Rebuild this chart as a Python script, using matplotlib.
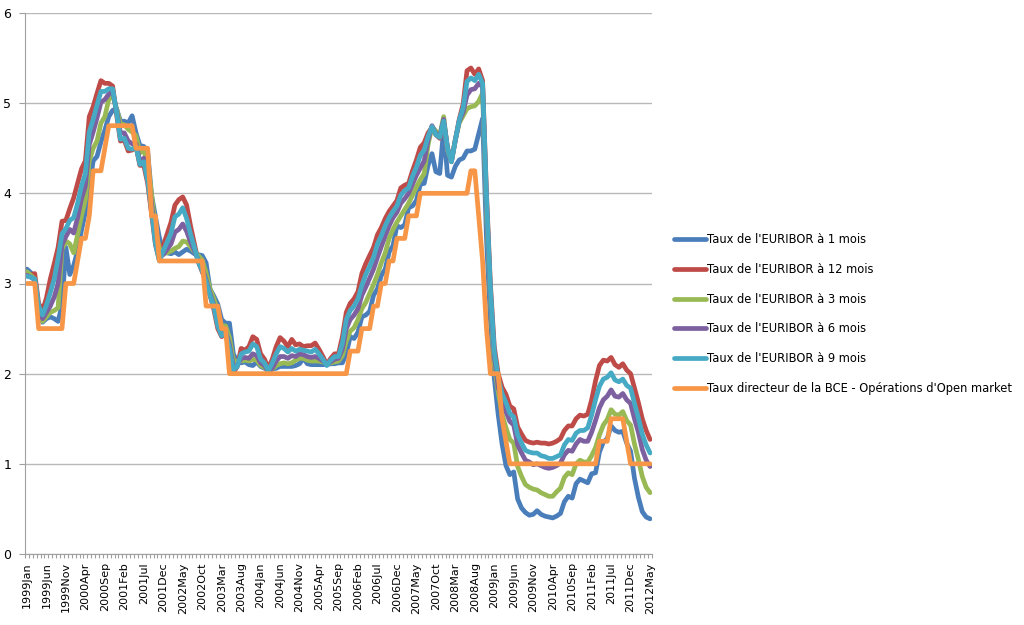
import matplotlib
matplotlib.use("Agg")
import matplotlib.pyplot as plt
import numpy as np

# DATA ------------------------------------------------------------
# monthly values, 1999Jan -> 2012May (161 months)
eur_1m = [
    3.16, 3.12, 3.05, 2.70, 2.57, 2.61, 2.63, 2.61, 2.58, 2.76, 3.40, 3.10,  # 1999
    3.20, 3.36, 3.59, 3.79, 4.06, 4.36, 4.41, 4.57, 4.70, 4.85, 4.92, 4.94,  # 2000
    4.80, 4.80, 4.78, 4.86, 4.67, 4.53, 4.52, 4.46, 3.98, 3.74, 3.51, 3.34,  # 2001
    3.34, 3.33, 3.35, 3.32, 3.35, 3.38, 3.36, 3.33, 3.32, 3.31, 3.23, 2.94,  # 2002
    2.86, 2.77, 2.60, 2.56, 2.56, 2.22, 2.13, 2.12, 2.13, 2.10, 2.09, 2.13,  # 2003
    2.08, 2.06, 2.04, 2.05, 2.06, 2.08, 2.08, 2.08, 2.08, 2.09, 2.11, 2.17,  # 2004
    2.11, 2.10, 2.10, 2.10, 2.10, 2.10, 2.11, 2.11, 2.12, 2.12, 2.22, 2.41,  # 2005
    2.39, 2.46, 2.63, 2.65, 2.69, 2.87, 2.94, 3.09, 3.16, 3.35, 3.42, 3.64,  # 2006
    3.62, 3.65, 3.84, 3.86, 3.92, 4.10, 4.11, 4.31, 4.44, 4.24, 4.22, 4.71,  # 2007
    4.20, 4.18, 4.30, 4.37, 4.39, 4.47, 4.47, 4.49, 4.66, 4.83, 3.50, 2.60,  # 2008
    1.95, 1.55, 1.22, 0.98, 0.88, 0.91, 0.61, 0.51, 0.46, 0.43, 0.44, 0.48,  # 2009
    0.44, 0.42, 0.41, 0.40, 0.42, 0.45, 0.58, 0.64, 0.62, 0.78, 0.83, 0.81,  # 2010
    0.79, 0.89, 0.90, 1.13, 1.24, 1.28, 1.42, 1.37, 1.35, 1.36, 1.23, 1.14,  # 2011
    0.84, 0.63, 0.47, 0.41, 0.39]                                           # 2012

eur_12m = [
    3.09, 3.10, 3.11, 2.78, 2.70, 2.84, 3.05, 3.22, 3.40, 3.69, 3.70, 3.83,
    3.95, 4.11, 4.27, 4.36, 4.85, 4.96, 5.11, 5.25, 5.22, 5.22, 5.19, 4.88,
    4.58, 4.59, 4.47, 4.48, 4.52, 4.31, 4.31, 4.11, 3.77, 3.43, 3.26, 3.42,
    3.55, 3.68, 3.87, 3.93, 3.96, 3.87, 3.64, 3.44, 3.24, 3.13, 3.03, 2.87,
    2.71, 2.50, 2.41, 2.45, 2.26, 2.01, 2.08, 2.28, 2.26, 2.30, 2.41, 2.38,
    2.22, 2.16, 2.06, 2.16, 2.30, 2.40, 2.36, 2.30, 2.38, 2.32, 2.33, 2.30,
    2.31, 2.31, 2.34, 2.27, 2.19, 2.10, 2.17, 2.22, 2.22, 2.41, 2.68, 2.78,
    2.83, 2.91, 3.11, 3.22, 3.31, 3.40, 3.54, 3.62, 3.72, 3.80, 3.86, 3.92,
    4.06, 4.09, 4.11, 4.25, 4.37, 4.51, 4.56, 4.67, 4.73, 4.65, 4.61, 4.79,
    4.50, 4.35, 4.59, 4.82, 4.99, 5.36, 5.39, 5.32, 5.38, 5.25, 4.00, 3.00,
    2.30, 2.00, 1.85, 1.77, 1.64, 1.61, 1.41, 1.33, 1.26, 1.24, 1.23, 1.24,
    1.23, 1.23, 1.22, 1.23, 1.25, 1.28, 1.37, 1.42, 1.42, 1.50, 1.54, 1.53,
    1.55, 1.71, 1.92, 2.09, 2.15, 2.14, 2.18, 2.10, 2.07, 2.11, 2.04, 2.00,
    1.84, 1.68, 1.50, 1.37, 1.27]

eur_3m = [
    3.13, 3.09, 3.05, 2.70, 2.58, 2.63, 2.68, 2.70, 2.73, 3.38, 3.47, 3.44,
    3.34, 3.54, 3.75, 3.93, 4.36, 4.50, 4.58, 4.78, 4.85, 5.04, 5.09, 4.94,
    4.77, 4.76, 4.71, 4.68, 4.64, 4.45, 4.47, 4.35, 3.99, 3.60, 3.39, 3.34,
    3.34, 3.36, 3.39, 3.41, 3.47, 3.46, 3.41, 3.35, 3.31, 3.26, 3.12, 2.94,
    2.83, 2.69, 2.53, 2.53, 2.40, 2.15, 2.13, 2.14, 2.15, 2.14, 2.16, 2.15,
    2.09, 2.07, 2.03, 2.05, 2.09, 2.11, 2.12, 2.11, 2.12, 2.15, 2.17, 2.17,
    2.15, 2.14, 2.14, 2.14, 2.13, 2.11, 2.12, 2.13, 2.14, 2.20, 2.36, 2.47,
    2.51, 2.60, 2.72, 2.79, 2.89, 2.99, 3.10, 3.23, 3.34, 3.50, 3.60, 3.68,
    3.75, 3.82, 3.89, 3.98, 4.07, 4.15, 4.22, 4.54, 4.74, 4.69, 4.64, 4.85,
    4.48, 4.36, 4.60, 4.78, 4.86, 4.94, 4.96, 4.97, 5.02, 5.11, 3.80, 2.85,
    2.10, 1.80, 1.55, 1.40, 1.27, 1.23, 0.97, 0.86, 0.77, 0.74, 0.72, 0.71,
    0.68, 0.66, 0.64, 0.64, 0.69, 0.73, 0.85, 0.90, 0.88, 1.00, 1.04, 1.02,
    1.02, 1.09, 1.18, 1.32, 1.43, 1.49, 1.60, 1.55, 1.54, 1.58, 1.48, 1.43,
    1.22, 1.05, 0.86, 0.74, 0.68]

eur_6m = [
    3.09, 3.07, 3.04, 2.72, 2.61, 2.68, 2.75, 2.85, 3.00, 3.43, 3.52, 3.60,
    3.56, 3.73, 3.94, 4.08, 4.54, 4.68, 4.84, 5.01, 5.04, 5.10, 5.13, 4.92,
    4.67, 4.67, 4.58, 4.55, 4.55, 4.35, 4.39, 4.22, 3.88, 3.49, 3.29, 3.32,
    3.38, 3.44, 3.57, 3.60, 3.66, 3.58, 3.46, 3.36, 3.26, 3.17, 3.04, 2.89,
    2.76, 2.58, 2.45, 2.47, 2.32, 2.08, 2.09, 2.17, 2.18, 2.17, 2.22, 2.20,
    2.12, 2.09, 2.02, 2.06, 2.14, 2.19, 2.19, 2.17, 2.20, 2.19, 2.22, 2.21,
    2.19, 2.18, 2.19, 2.17, 2.14, 2.11, 2.13, 2.16, 2.17, 2.27, 2.50, 2.60,
    2.65, 2.72, 2.87, 2.96, 3.06, 3.16, 3.29, 3.41, 3.53, 3.64, 3.73, 3.79,
    3.89, 3.94, 4.00, 4.10, 4.20, 4.28, 4.36, 4.59, 4.75, 4.66, 4.63, 4.82,
    4.50, 4.36, 4.59, 4.80, 4.90, 5.09, 5.15, 5.16, 5.22, 5.18, 3.90, 2.90,
    2.20, 1.85, 1.70, 1.58, 1.47, 1.43, 1.21, 1.12, 1.04, 1.02, 0.99, 1.00,
    0.98, 0.96, 0.95, 0.96, 0.98, 1.01, 1.10, 1.15, 1.14, 1.22, 1.27, 1.25,
    1.25, 1.35, 1.48, 1.62, 1.71, 1.75, 1.82, 1.75, 1.74, 1.78, 1.71, 1.67,
    1.50, 1.35, 1.16, 1.04, 0.97]

eur_9m = [
    3.08, 3.07, 3.05, 2.75, 2.65, 2.76, 2.90, 3.05, 3.28, 3.55, 3.61, 3.70,
    3.73, 3.89, 4.08, 4.22, 4.68, 4.82, 4.98, 5.13, 5.13, 5.16, 5.16, 4.90,
    4.60, 4.61, 4.50, 4.49, 4.52, 4.32, 4.35, 4.14, 3.81, 3.44, 3.25, 3.36,
    3.46, 3.56, 3.74, 3.77, 3.84, 3.72, 3.55, 3.40, 3.24, 3.14, 3.02, 2.87,
    2.74, 2.53, 2.42, 2.46, 2.28, 2.04, 2.08, 2.22, 2.24, 2.25, 2.33, 2.30,
    2.16, 2.12, 2.03, 2.12, 2.22, 2.30, 2.28, 2.24, 2.28, 2.25, 2.27, 2.26,
    2.25, 2.24, 2.27, 2.22, 2.16, 2.09, 2.15, 2.19, 2.19, 2.34, 2.60, 2.70,
    2.75, 2.83, 2.98, 3.10, 3.19, 3.29, 3.44, 3.53, 3.64, 3.73, 3.80, 3.86,
    3.98, 4.03, 4.06, 4.19, 4.29, 4.42, 4.48, 4.63, 4.74, 4.65, 4.62, 4.80,
    4.50, 4.35, 4.59, 4.81, 4.95, 5.24, 5.28, 5.25, 5.32, 5.22, 3.95, 2.95,
    2.25, 1.95, 1.78, 1.68, 1.56, 1.52, 1.32, 1.23, 1.15, 1.13, 1.12, 1.12,
    1.09, 1.08, 1.06, 1.06, 1.08, 1.10, 1.21, 1.27, 1.26, 1.34, 1.37, 1.37,
    1.40, 1.54, 1.71, 1.86, 1.94, 1.96, 2.01, 1.93, 1.91, 1.94, 1.87, 1.84,
    1.67, 1.51, 1.33, 1.21, 1.12]

bce = [
    3.00, 3.00, 3.00, 2.50, 2.50, 2.50, 2.50, 2.50, 2.50, 2.50, 3.00, 3.00,
    3.00, 3.25, 3.50, 3.50, 3.75, 4.25, 4.25, 4.25, 4.50, 4.75, 4.75, 4.75,
    4.75, 4.75, 4.75, 4.75, 4.50, 4.50, 4.50, 4.50, 3.75, 3.75, 3.25, 3.25,
    3.25, 3.25, 3.25, 3.25, 3.25, 3.25, 3.25, 3.25, 3.25, 3.25, 2.75, 2.75,
    2.75, 2.75, 2.50, 2.50, 2.00, 2.00, 2.00, 2.00, 2.00, 2.00, 2.00, 2.00,
    2.00, 2.00, 2.00, 2.00, 2.00, 2.00, 2.00, 2.00, 2.00, 2.00, 2.00, 2.00,
    2.00, 2.00, 2.00, 2.00, 2.00, 2.00, 2.00, 2.00, 2.00, 2.00, 2.00, 2.25,
    2.25, 2.25, 2.50, 2.50, 2.50, 2.75, 2.75, 3.00, 3.00, 3.25, 3.25, 3.50,
    3.50, 3.50, 3.75, 3.75, 3.75, 4.00, 4.00, 4.00, 4.00, 4.00, 4.00, 4.00,
    4.00, 4.00, 4.00, 4.00, 4.00, 4.00, 4.25, 4.25, 3.75, 3.25, 2.50, 2.00,
    2.00, 2.00, 1.50, 1.25, 1.00, 1.00, 1.00, 1.00, 1.00, 1.00, 1.00, 1.00,
    1.00, 1.00, 1.00, 1.00, 1.00, 1.00, 1.00, 1.00, 1.00, 1.00, 1.00, 1.00,
    1.00, 1.00, 1.00, 1.25, 1.25, 1.25, 1.50, 1.50, 1.50, 1.50, 1.25, 1.00,
    1.00, 1.00, 1.00, 1.00, 1.00]

# one label every 5 months
tick_labels = ["1999Jan", "1999Jun", "1999Nov", "2000Apr", "2000Sep", "2001Feb",
               "2001Jul", "2001Dec", "2002May", "2002Oct", "2003Mar", "2003Aug",
               "2004Jan", "2004Jun", "2004Nov", "2005Apr", "2005Sep", "2006Feb",
               "2006Jul", "2006Dec", "2007May", "2007Oct", "2008Mar", "2008Aug",
               "2009Jan", "2009Jun", "2009Nov", "2010Apr", "2010Sep", "2011Feb",
               "2011Jul", "2011Dec", "2012May"]

series = [
    ("Taux de l'EURIBOR à 1 mois", eur_1m, "#4A7EBB"),
    ("Taux de l'EURIBOR à 12 mois", eur_12m, "#BE4B48"),
    ("Taux de l'EURIBOR à 3 mois", eur_3m, "#98B954"),
    ("Taux de l'EURIBOR à 6 mois", eur_6m, "#7D60A0"),
    ("Taux de l'EURIBOR à 9 mois", eur_9m, "#46AAC5"),
    ("Taux directeur de la BCE - Opérations d'Open market", bce, "#F79646"),
]
# -----------------------------------------------------------------

fig = plt.figure(figsize=(10.24, 6.25), dpi=100)
ax = fig.add_axes([25 / 1024, 1 - 554 / 625, 627 / 1024, 541 / 625])

x = np.arange(len(eur_1m))
for label, values, color in series:
    ax.plot(x, values, color=color, lw=3.4, label=label,
            solid_joinstyle="round", solid_capstyle="round")

ax.set_xlim(-0.5, len(eur_1m) - 0.5)
ax.set_ylim(0, 6)
ax.set_yticks(range(0, 7))
ax.yaxis.grid(True, color="#b8b8b8", lw=1)
ax.set_axisbelow(True)

ax.set_xticks(x[::5])
ax.set_xticklabels(tick_labels, rotation=90, fontsize=8)
ax.set_xticks(np.arange(len(eur_1m) + 1) - 0.5, minor=True)
ax.tick_params(axis="x", which="major", length=0, pad=6)
ax.tick_params(axis="x", which="minor", length=3, color="#a0a0a0", width=0.8)
ax.tick_params(axis="y", length=4, color="#a0a0a0", labelsize=9, pad=6)

for side in ["top", "right"]:
    ax.spines[side].set_visible(False)
for side in ["left", "bottom"]:
    ax.spines[side].set_color("#a0a0a0")

fig.legend(loc="center left", bbox_to_anchor=(674 / 1024, 1 - 314 / 625),
           frameon=False, fontsize=8.3, handlelength=2.8, handletextpad=0.1,
           labelspacing=1.45, borderpad=0, borderaxespad=0)

fig.savefig("out.png", dpi=100)
